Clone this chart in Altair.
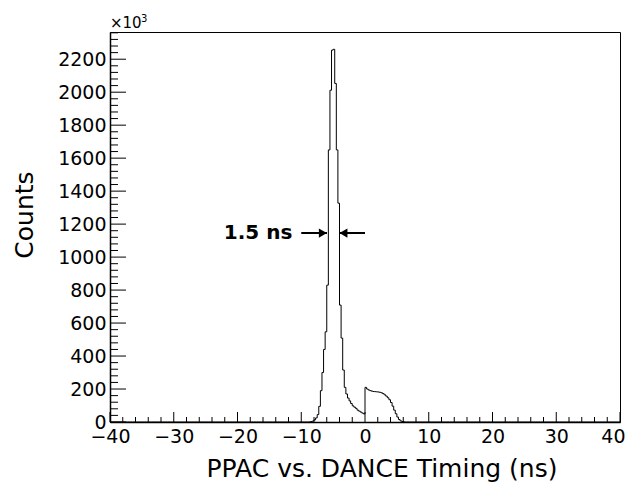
import altair as alt
import pandas as pd

# ---- data ----
x_min, x_max = -40.0, 40.0
y_max = 2365.0            # in units of 10^3 counts
bin_width = 0.25
first_edge = -8.75        # left edge of first non-empty bin
counts_k = [
    1, 3, 6, 13, 25, 45, 95, 190, 300, 440,          # -8.75 .. -6.5
    547, 830, 1650, 2012, 2255, 2260, 2053, 1650,    # -6.25 .. -4.5
    1327, 709, 509, 315, 210, 170, 145, 128, 112,    # -4.25 .. -2.25
    98, 90, 83, 72, 66, 60, 54, 49,                  # -2.0 .. -0.25
    210, 200, 194, 190, 187, 185, 184, 183, 182,     # 0 .. 2.0
    180, 177, 172, 165, 157, 147, 135, 118, 96,      # 2.25 .. 4.25
    72, 50, 30, 15, 7, 3, 1,                         # 4.5 .. 6.0
]
x_major = [-40, -30, -20, -10, 0, 10, 20, 30, 40]
x_minor = [v for v in range(-40, 41, 2) if v % 10 != 0]
y_major = list(range(0, 2201, 200))
y_minor = [v for v in range(40, 2361, 40) if v % 200 != 0]

fwhm_label = "1.5 ns"
fwhm_y = 1146
left_arrow = (-10.0, -5.96)
right_arrow = (0.0, -4.03)

# ---- build tables ----
n_bins = int(round((x_max - x_min) / bin_width))
start_idx = int(round((first_edge - x_min) / bin_width))
vals = [0.0] * n_bins
for i, c in enumerate(counts_k):
    vals[start_idx + i] = c
edges = [x_min + i * bin_width for i in range(n_bins)]
hist = pd.DataFrame({"x": edges + [x_max], "y": vals + [vals[-1]]})

W, H = 510, 390
FONT = "DejaVu Sans"

xs = alt.Scale(domain=[x_min, x_max], nice=False, zero=False)
ys = alt.Scale(domain=[0, y_max], nice=False, zero=False)
ax_x = alt.Axis(values=x_major, format="d", ticks=False, tickSize=0,
                domain=True, domainColor="black", domainWidth=1.5,
                grid=False, title=None, labelFont=FONT, labelFontSize=19,
                labelColor="black", labelPadding=5, labelFlush=False,
                labelOverlap=False,
                labelAlign=alt.condition("datum.value == 40", alt.value("right"), alt.value("center")),
                labelOffset=alt.condition("datum.value == 40", alt.value(5), alt.value(0)))
ax_y = alt.Axis(values=y_major, format="d", ticks=False, tickSize=0,
                domain=True, domainColor="black", domainWidth=1.5,
                grid=False, title=None, labelFont=FONT, labelFontSize=19,
                labelColor="black", labelPadding=4, labelFlush=False,
                labelOverlap=False)

def X(f):
    return alt.X(f, scale=xs, axis=ax_x, title=None)

def Y(f):
    return alt.Y(f, scale=ys, axis=ax_y, title=None)

hist_layer = alt.Chart(hist).mark_line(
    interpolate="step-after", color="black", strokeWidth=1
).encode(x=X("x:Q"), y=Y("y:Q"))

def xticks(vals_, length):
    return alt.Chart(pd.DataFrame({"x": vals_})).mark_rule(color="black", strokeWidth=1).encode(
        x=X("x:Q"), y=alt.value(H), y2=alt.value(H - length))

def yticks(vals_, length):
    return alt.Chart(pd.DataFrame({"y": vals_})).mark_rule(color="black", strokeWidth=1).encode(
        y=Y("y:Q"), x=alt.value(0), x2=alt.value(length))

arrows = pd.DataFrame({
    "x": [left_arrow[0], right_arrow[0]],
    "x2": [left_arrow[1], right_arrow[1]],
    "y": [fwhm_y, fwhm_y],
})
arrow_lines = alt.Chart(arrows).mark_rule(color="black", strokeWidth=2).encode(
    x=X("x:Q"), x2="x2:Q", y=Y("y:Q"))

heads = pd.DataFrame({
    "x": [left_arrow[1] - 0.65, right_arrow[1] + 0.65],
    "y": [fwhm_y, fwhm_y],
    "shape": ["triangle-right", "triangle-left"],
})
arrow_heads = alt.Chart(heads).mark_point(filled=True, color="black", opacity=1, size=85).encode(
    x=X("x:Q"), y=Y("y:Q"),
    shape=alt.Shape("shape:N", scale=None, legend=None))

label = alt.Chart(pd.DataFrame({"x": [-11.4], "y": [fwhm_y], "t": [fwhm_label]})).mark_text(
    font=FONT, fontSize=20, fontWeight="bold", align="right", baseline="middle", color="black"
).encode(x=X("x:Q"), y=Y("y:Q"), text="t:N")

one = pd.DataFrame({"a": [0]})
xtitle = alt.Chart(one).mark_text(
    font=FONT, fontSize=25, align="center", baseline="alphabetic", color="black"
).encode(x=alt.value(272), y=alt.value(445), text=alt.value("PPAC vs. DANCE Timing (ns)"))
ytitle = alt.Chart(one).mark_text(
    font=FONT, fontSize=25, align="center", baseline="middle", angle=270, color="black"
).encode(x=alt.value(-85), y=alt.value(183), text=alt.value("Counts"))
mult = alt.Chart(one).mark_text(
    font=FONT, fontSize=15, align="left", baseline="alphabetic", color="black"
).encode(x=alt.value(0), y=alt.value(-4), text=alt.value("×10"))
mult_exp = alt.Chart(one).mark_text(
    font=FONT, fontSize=10, align="left", baseline="alphabetic", color="black"
).encode(x=alt.value(31), y=alt.value(-10), text=alt.value("3"))

chart = alt.layer(
    hist_layer,
    xticks(x_major, 10), xticks(x_minor, 5),
    yticks(y_major, 16), yticks(y_minor, 8),
    arrow_lines, arrow_heads, label,
    xtitle, ytitle, mult, mult_exp,
).properties(
    width=W, height=H,
    autosize=alt.AutoSizeParams(type="none"),
    padding={"left": 102, "top": 24, "right": 6, "bottom": 61},
    background="white",
).configure_view(stroke="black", strokeWidth=1)

chart.save("out.html", embed_options={"renderer": "svg", "actions": False})
